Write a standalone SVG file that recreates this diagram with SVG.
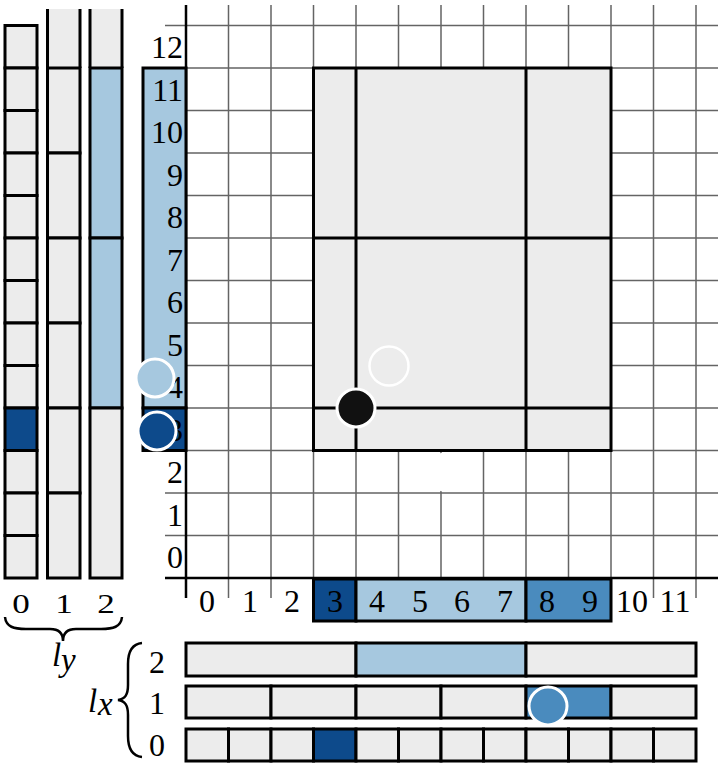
<svg xmlns="http://www.w3.org/2000/svg" width="718" height="765" viewBox="0 0 718 765">
<style>
.g{stroke:#646464;stroke-width:1.5;fill:none}
.ax{stroke:#000;stroke-width:2.5;fill:none}
.bx{stroke:#000;stroke-width:3}
.k{stroke:#000;stroke-width:3;fill:none}
.e{fill:#ececec}
.lb{fill:#a6c8df}
.mb{fill:#4a8bbe}
.db{fill:#0d4a8b}
.t{font-family:"Liberation Serif","Times New Roman",serif;font-size:32px;fill:#000}
.ti{font-family:"Liberation Serif","Times New Roman",serif;font-style:italic;font-size:33px;fill:#000}
.c{stroke:#fff;stroke-width:3}
</style>
<rect width="718" height="765" fill="#fff"/>
<g id="grid">
<path class="g" d="M228.5,5V598M271,5V598M313.5,5V598M356,5V598M398.5,5V598M441,5V598M483.5,5V598M526,5V598M568.5,5V598M611,5V598M653.5,5V598M696,5V598"/>
<path class="g" d="M165,25.5H718M165,68H718M165,110.5H718M165,153H718M165,195.5H718M165,238H718M165,280.5H718M165,323H718M165,365.5H718M165,408H718M165,450.5H718M165,493H718M165,535.5H718"/>
</g>
<g id="region">
<rect class="e bx" x="313.5" y="68" width="297.5" height="382.5"/>
<path class="k" d="M356,68V450.5M526,68V450.5M313.5,238H611M313.5,408H611"/>
</g>
<g id="axes">
<path class="ax" d="M186,5V598M165,578H718"/>
</g>
<g id="ylabels">
<rect class="lb bx" x="143" y="68" width="43" height="340"/>
<rect class="db bx" x="143" y="408" width="43" height="42.5"/>
<g class="t" text-anchor="end">
<text x="183" y="58">12</text>
<text x="183" y="101">11</text>
<text x="183" y="143">10</text>
<text x="183" y="186">9</text>
<text x="183" y="228">8</text>
<text x="183" y="271">7</text>
<text x="183" y="313">6</text>
<text x="183" y="356">5</text>
<text x="183" y="398">4</text>
<text x="183" y="441">3</text>
<text x="183" y="483">2</text>
<text x="183" y="526">1</text>
<text x="183" y="568">0</text>
</g>
</g>
<g id="xlabels">
<rect class="db bx" x="313.5" y="579" width="42.5" height="42"/>
<rect class="lb bx" x="356" y="579" width="170" height="42"/>
<rect class="mb bx" x="526" y="579" width="85" height="42"/>
<g class="t" text-anchor="middle">
<text x="207" y="612">0</text>
<text x="250" y="612">1</text>
<text x="292" y="612">2</text>
<text x="335" y="612">3</text>
<text x="377" y="612">4</text>
<text x="420" y="612">5</text>
<text x="462" y="612">6</text>
<text x="505" y="612">7</text>
<text x="547" y="612">8</text>
<text x="590" y="612">9</text>
<text x="632" y="612">10</text>
<text x="675" y="612">11</text>
</g>
</g>
<g id="ly0">
<rect class="e bx" x="5" y="25.5" width="32" height="42.5"/>
<rect class="e bx" x="5" y="68" width="32" height="42.5"/>
<rect class="e bx" x="5" y="110.5" width="32" height="42.5"/>
<rect class="e bx" x="5" y="153" width="32" height="42.5"/>
<rect class="e bx" x="5" y="195.5" width="32" height="42.5"/>
<rect class="e bx" x="5" y="238" width="32" height="42.5"/>
<rect class="e bx" x="5" y="280.5" width="32" height="42.5"/>
<rect class="e bx" x="5" y="323" width="32" height="42.5"/>
<rect class="e bx" x="5" y="365.5" width="32" height="42.5"/>
<rect class="db bx" x="5" y="408" width="32" height="42.5"/>
<rect class="e bx" x="5" y="450.5" width="32" height="42.5"/>
<rect class="e bx" x="5" y="493" width="32" height="42.5"/>
<rect class="e bx" x="5" y="535.5" width="32" height="42.5"/>
</g>
<g id="ly1">
<rect class="e" x="47.5" y="9" width="32.5" height="59"/>
<path class="k" d="M47.5,9V68M80,9V68"/>
<rect class="e bx" x="47.5" y="68" width="32.5" height="85"/>
<rect class="e bx" x="47.5" y="153" width="32.5" height="85"/>
<rect class="e bx" x="47.5" y="238" width="32.5" height="85"/>
<rect class="e bx" x="47.5" y="323" width="32.5" height="85"/>
<rect class="e bx" x="47.5" y="408" width="32.5" height="85"/>
<rect class="e bx" x="47.5" y="493" width="32.5" height="85"/>
</g>
<g id="ly2">
<rect class="e" x="90" y="9" width="32" height="59"/>
<path class="k" d="M90,9V68M122,9V68"/>
<rect class="lb bx" x="90" y="68" width="32" height="170"/>
<rect class="lb bx" x="90" y="238" width="32" height="170"/>
<rect class="e bx" x="90" y="408" width="32" height="170"/>
</g>
<g id="ly-label">
<g class="t" text-anchor="middle">
<text transform="translate(21,613) scale(1.3,1)" style="font-size:27px">0</text>
<text transform="translate(64,613) scale(1.3,1)" style="font-size:27px">1</text>
<text transform="translate(106,613) scale(1.3,1)" style="font-size:27px">2</text>
</g>
<path fill="none" stroke="#000" stroke-width="2.5" d="M5,617C6,627 14,629 26,629L50,629C59,629 63,633 63,641C63,633 67,629 76,629L101,629C113,629 121,627 122,617"/>
<text class="ti" x="52" y="666">l</text>
<text class="ti" x="61" y="671">y</text>
</g>
<g id="lx2">
<rect class="e bx" x="186" y="643" width="170" height="33"/>
<rect class="lb bx" x="356" y="643" width="170" height="33"/>
<rect class="e bx" x="526" y="643" width="170" height="33"/>
</g>
<g id="lx1">
<rect class="e bx" x="186" y="686" width="85" height="32"/>
<rect class="e bx" x="271" y="686" width="85" height="32"/>
<rect class="e bx" x="356" y="686" width="85" height="32"/>
<rect class="e bx" x="441" y="686" width="85" height="32"/>
<rect class="mb bx" x="526" y="686" width="85" height="32"/>
<rect class="e bx" x="611" y="686" width="85" height="32"/>
</g>
<g id="lx0">
<rect class="e bx" x="186" y="729" width="42.5" height="32"/>
<rect class="e bx" x="228.5" y="729" width="42.5" height="32"/>
<rect class="e bx" x="271" y="729" width="42.5" height="32"/>
<rect class="db bx" x="313.5" y="729" width="42.5" height="32"/>
<rect class="e bx" x="356" y="729" width="42.5" height="32"/>
<rect class="e bx" x="398.5" y="729" width="42.5" height="32"/>
<rect class="e bx" x="441" y="729" width="42.5" height="32"/>
<rect class="e bx" x="483.5" y="729" width="42.5" height="32"/>
<rect class="e bx" x="526" y="729" width="42.5" height="32"/>
<rect class="e bx" x="568.5" y="729" width="42.5" height="32"/>
<rect class="e bx" x="611" y="729" width="42.5" height="32"/>
<rect class="e bx" x="653.5" y="729" width="42.5" height="32"/>
</g>
<g id="lx-label">
<g class="t" text-anchor="middle">
<text x="157" y="673">2</text>
<text x="157" y="714">1</text>
<text x="157" y="756">0</text>
</g>
<path fill="none" stroke="#000" stroke-width="2.5" d="M142,643C132,644 128,651 128,664L128,685C128,695 125,699 118,700C125,701 128,705 128,715L128,736C128,749 132,756 142,757"/>
<text class="ti" x="88" y="712">l</text>
<text class="ti" x="98" y="715">x</text>
</g>
<g id="points">
<circle class="c lb" cx="155" cy="378" r="19"/>
<circle class="c db" cx="157" cy="431" r="19"/>
<circle class="c" fill="#111" cx="356" cy="408" r="19"/>
<circle cx="389" cy="366" r="19.5" fill="none" stroke="#fff" stroke-width="2.5"/>
<circle cx="447" cy="472" r="20" fill="#fff"/>
<circle class="c mb" cx="548" cy="706" r="19"/>
</g>
</svg>
